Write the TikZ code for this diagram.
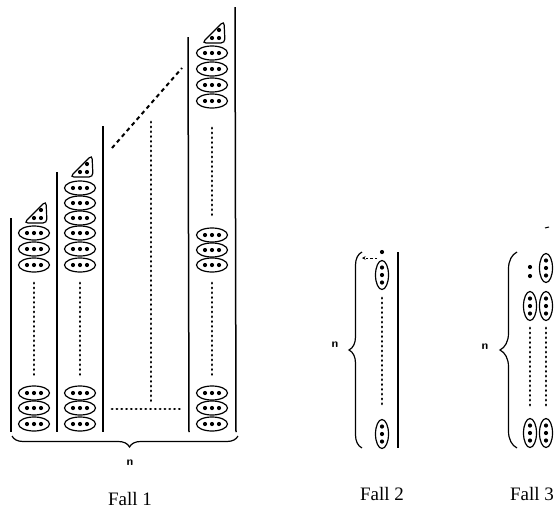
\documentclass[tikz,border=0pt]{standalone}
\usepackage{fontspec}
\setmainfont{Liberation Serif}
\usetikzlibrary{decorations.pathreplacing,arrows.meta}
\tikzset{
  wall/.style={line width=1.5pt},
  blob/.style={line width=1.2pt},
  dotline/.style={line width=2.8pt, line cap=round, dash pattern=on 0.3pt off 4.5pt},
  dashline/.style={line width=2pt, dash pattern=on 4pt off 3.5pt},
  bracedeco/.style={decorate, decoration={brace, amplitude=#1}, line width=1.2pt},
  lbl/.style={font=\fontsize{19}{20}\selectfont},
  nlbl/.style={font=\sffamily\bfseries\fontsize{12}{12}\selectfont},
  hblob/.pic={
    \draw[blob] (0,0) ellipse [x radius=15.5pt, y radius=7pt];
    \foreach \d in {-7,0,7} \fill (\d,0) circle [radius=2.1pt];
  },
  vblob/.pic={
    \draw[blob] (0,0) ellipse [x radius=6.5pt, y radius=14.5pt];
    \foreach \d in {-7.5,0,7.5} \fill (0,\d) circle [radius=2.1pt];
  },
  tri/.pic={
    \draw[blob, rounded corners=4pt] (-10,10) -- (13,10) -- (12,-12) -- cycle;
    \fill (7,-3) circle [radius=2.1pt] (0,5) circle [radius=2.1pt] (7,5) circle [radius=2.1pt];
  }
}
\begin{document}
\begin{tikzpicture}[x=1pt,y=-1pt]
\useasboundingbox (0,0) rectangle (557,512);

% ---------- Fall 1 ----------
% walls
\draw[wall] (11,218) -- (11,432);
\draw[wall] (57,172) -- (57,432);
\draw[wall] (103,126) -- (103,432);
\draw[wall] (188,37) -- (189,432);
\draw[wall] (235,7) -- (236,432);

% column 1
\pic at (34,213) {tri};
\foreach \y in {233,249,265} \pic at (34,\y) {hblob};
\draw[dotline] (34,283) -- (34,377);
\foreach \y in {393,408,424} \pic at (34,\y) {hblob};

% column 2
\pic at (80,167) {tri};
\foreach \y in {188,203,218,233,249,265} \pic at (80,\y) {hblob};
\draw[dotline] (80,283) -- (80,377);
\foreach \y in {393,408,424} \pic at (80,\y) {hblob};

% column 4
\pic at (212,33) {tri};
\foreach \y in {53,69,85,101} \pic at (212,\y) {hblob};
\draw[dotline] (212,128) -- (212,218);
\foreach \y in {235,250,265} \pic at (212,\y) {hblob};
\draw[dotline] (212,283) -- (212,377);
\foreach \y in {393,408,424} \pic at (212,\y) {hblob};

% omitted columns
\draw[dashline] (112,148) -- (182,68);
\draw[dotline] (151,122) -- (151,402);
\draw[dotline] (112,409) -- (183,409);

% brace
\draw[bracedeco=11pt, decoration={aspect=0.48}] (238,436) -- (12,436);
\node[nlbl] (n1) at (130,463) {n};
\node[lbl] (f1) at (130,499) {Fall 1};

% ---------- Fall 2 ----------
\draw[wall] (398,252) -- (398,448);
\fill (382,252) circle [radius=2.1pt];
\pic at (382,275) {vblob};
\draw[dotline] (382,298) -- (382,407);
\pic at (382,434) {vblob};
\draw[line width=0.9pt, dash pattern=on 2.5pt off 2pt, -{Stealth[length=3.5pt,width=3.5pt]}] (377,258) -- (362,258);
\draw[bracedeco=13pt] (362,448) -- (362,252);
\node[nlbl] (n2) at (335,345) {n};
\node[lbl] (f2) at (382,494) {Fall 2};

% ---------- Fall 3 ----------
\draw[line width=1pt] (545,228) -- (549,227);
\fill (530,267) circle [radius=2.1pt] (530,276) circle [radius=2.1pt];
\pic at (546,268) {vblob};
\pic at (530,306) {vblob};
\pic at (546,306) {vblob};
\draw[dotline] (530,328) -- (530,408);
\draw[dotline] (546,328) -- (546,408);
\pic at (530,433) {vblob};
\pic at (546,433) {vblob};
\draw[bracedeco=17pt] (517,448) -- (517,252);
\node[nlbl] (n3) at (485,347) {n};
\node[lbl] (f3) at (532,494) {Fall 3};
\end{tikzpicture}
\end{document}
